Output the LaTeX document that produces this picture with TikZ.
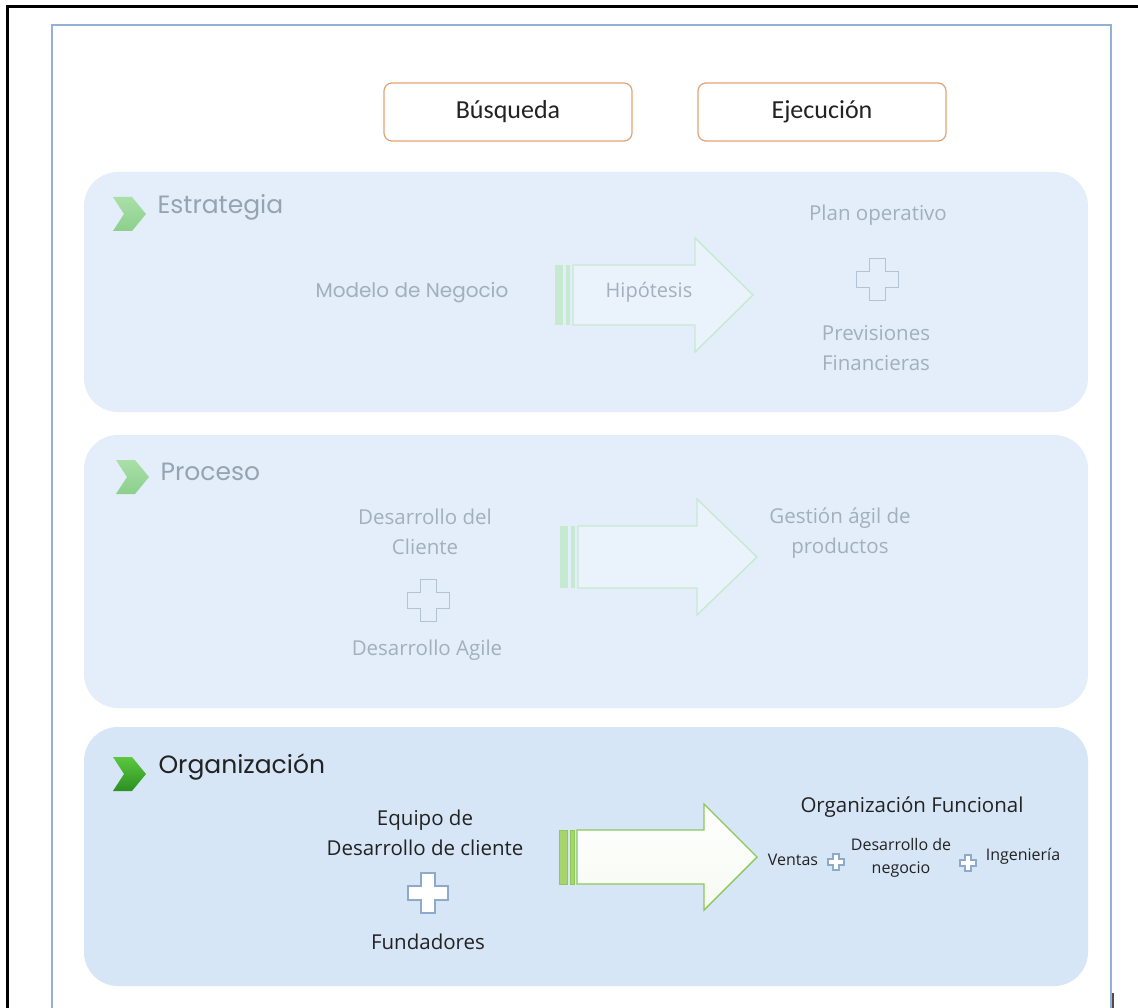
\documentclass[tikz,border=0pt]{standalone}
\usepackage{fontspec}
\setmainfont{Open Sans}
\newfontfamily\geofont{Poppins}
\newfontfamily\calfont{Carlito}

\definecolor{framecol}{HTML}{96AFD7}
\definecolor{panelsoft}{HTML}{E3EEFA}
\definecolor{panelorg}{HTML}{D6E6F6}
\definecolor{fadetext}{HTML}{A3AFBC}
\definecolor{fadehead}{HTML}{97A3B2}
\definecolor{darktext}{HTML}{222222}
\definecolor{fadegreen}{HTML}{C6EAD0}
\definecolor{fadebody}{HTML}{EAF3FC}
\definecolor{fadeplus}{HTML}{B4C3D3}
\definecolor{orgplus}{HTML}{8FAAC8}
\definecolor{arrowgreen}{HTML}{8CC85A}
\definecolor{arrowstripecol}{HTML}{A8D46E}
\definecolor{boxorange}{HTML}{E2A476}
\definecolor{fadechevtop}{HTML}{A9E0A8}
\definecolor{fadechevbot}{HTML}{8CCF8C}
\definecolor{orgchevtop}{HTML}{5BC83E}
\definecolor{orgchevbot}{HTML}{2C8F22}

\tikzset{
  phasebox/.style={draw=boxorange, line width=1.2, rounded corners=8, fill=white,
    minimum width=248, minimum height=58, font=\calfont\fontsize{26}{28}\selectfont, text=darktext},
  panelhead/.style={anchor=west, font=\geofont\fontsize{25}{28}\selectfont},
  fadelabel/.style={text=fadetext, align=center, font=\fontsize{20.5}{30}\selectfont},
  orglabel/.style={text=darktext, align=center, font=\fontsize{20.5}{30}\selectfont},
  smalllabel/.style={text=darktext, align=center, font=\fontsize{16}{23}\selectfont, inner sep=1},
  fadebodystyle/.style={draw=fadegreen, fill=fadebody, line width=1.4},
  fadestripestyle/.style={fill=fadegreen},
  orgbodystyle/.style={draw=arrowgreen, line width=1.4, top color=white, bottom color=white!92!arrowgreen},
  orgstripestyle/.style={fill=arrowstripecol, draw=arrowgreen, line width=0.6},
  fadeplusstyle/.style={draw=fadeplus, fill=panelsoft, line width=1},
  orgplusstyle/.style={draw=orgplus, fill=white, line width=1.2},
  fadechev/.style={top color=fadechevtop, bottom color=fadechevbot},
  orgchev/.style={top color=orgchevtop, bottom color=orgchevbot},
}

% striped block arrow: body style, stripe style, left x, head x, tip x, mid y, shaft half height, head half height
\newcommand{\stripearrow}[8]{%
  \path[#1] (#3+18,#6-#7) -- (#4,#6-#7) -- (#4,#6-#8) -- (#5,#6) -- (#4,#6+#8)
    -- (#4,#6+#7) -- (#3+18,#6+#7) -- cycle;
  \path[#2] (#3,#6-#7) rectangle (#3+8,#6+#7);
  \path[#2] (#3+11,#6-#7) rectangle (#3+15,#6+#7);
}
% outlined plus sign: style, centre x, centre y, arm half length, arm half width
\newcommand{\plusmark}[5]{%
  \path[#1] (#2-#5,#3-#4) -- (#2+#5,#3-#4) -- (#2+#5,#3-#5) -- (#2+#4,#3-#5)
    -- (#2+#4,#3+#5) -- (#2+#5,#3+#5) -- (#2+#5,#3+#4) -- (#2-#5,#3+#4)
    -- (#2-#5,#3+#5) -- (#2-#4,#3+#5) -- (#2-#4,#3-#5) -- (#2-#5,#3-#5) -- cycle;
}
% chevron bullet: style, left x, top y
\newcommand{\chevbullet}[3]{%
  \path[#1] (#2,#3) -- (#2+19,#3) -- (#2+33,#3+17) -- (#2+19,#3+34) -- (#2,#3+34)
    -- (#2+11,#3+17) -- cycle;
}

\begin{document}
\begin{tikzpicture}[x=1pt,y=-1pt]
\useasboundingbox (0,0) rectangle (1138,1008);
\fill[white] (0,0) rectangle (1138,1008);

% window edges
\draw[line width=3] (7,1008) -- (7,7) -- (1138,7);
\draw[framecol, line width=1.5] (52,1008) -- (52,25) -- (1111,25) -- (1111,1008);
\draw[black!70, line width=1.5] (1113,993) -- (1113,1008);

% phase headers
\node[phasebox] (busqueda) at (508,112) {Búsqueda};
\node[phasebox] (ejecucion) at (822,112) {Ejecución};

% panels
\fill[panelsoft, rounded corners=34] (84,172) rectangle (1088,412);
\fill[panelsoft, rounded corners=34] (84,435) rectangle (1088,708);
\fill[panelorg, rounded corners=34] (84,727) rectangle (1088,986);

% ---- Estrategia
\chevbullet{fadechev}{113}{197}
\node[panelhead, text=fadehead] (estrategia) at (154,207) {Estrategia};
\node[text=fadetext, font=\geofont\fontsize{20}{22}\selectfont] (modelo) at (412,293) {Modelo de Negocio};
\stripearrow{fadebodystyle}{fadestripestyle}{555}{695}{753}{295}{30}{57}
\node[text=fadetext, font=\fontsize{20}{22}\selectfont] (hipotesis) at (649,292) {Hipótesis};
\node[fadelabel] (plan) at (878,215) {Plan operativo};
\plusmark{fadeplusstyle}{877}{280}{21}{8}
\node[fadelabel] (previsiones) at (876,348) {Previsiones\\Financieras};

% ---- Proceso
\chevbullet{fadechev}{116}{460}
\node[panelhead, text=fadehead] (proceso) at (157,472) {Proceso};
\node[fadelabel] (descliente) at (425,532) {Desarrollo del\\Cliente};
\plusmark{fadeplusstyle}{428}{600}{21}{8}
\node[fadelabel] (agile) at (427,650) {Desarrollo Agile};
\stripearrow{fadebodystyle}{fadestripestyle}{560}{697}{757}{557}{31}{58}
\node[fadelabel] (gestion) at (840,533) {Gestión ágil de\\productos};

% ---- Organización
\chevbullet{orgchev}{113}{757}
\node[panelhead, text=darktext] (organizacion) at (155,767) {Organización};
\node[orglabel] (equipo) at (425,833) {Equipo de\\Desarrollo de cliente};
\plusmark{orgplusstyle}{428}{893}{20}{7}
\node[orglabel] (fundadores) at (428,942) {Fundadores};
\stripearrow{orgbodystyle}{orgstripestyle}{559}{704}{757}{857}{27}{53}
\node[orglabel] (funcional) at (912,807) {Organización Funcional};
\node[smalllabel] (ventas) at (793,860) {Ventas};
\plusmark{orgplusstyle}{836}{862}{8}{3}
\node[smalllabel] (desnegocio) at (901,858) {Desarrollo de\\negocio};
\plusmark{orgplusstyle}{968}{863}{8}{3}
\node[smalllabel] (ingenieria) at (1023,856) {Ingeniería};
\end{tikzpicture}
\end{document}
